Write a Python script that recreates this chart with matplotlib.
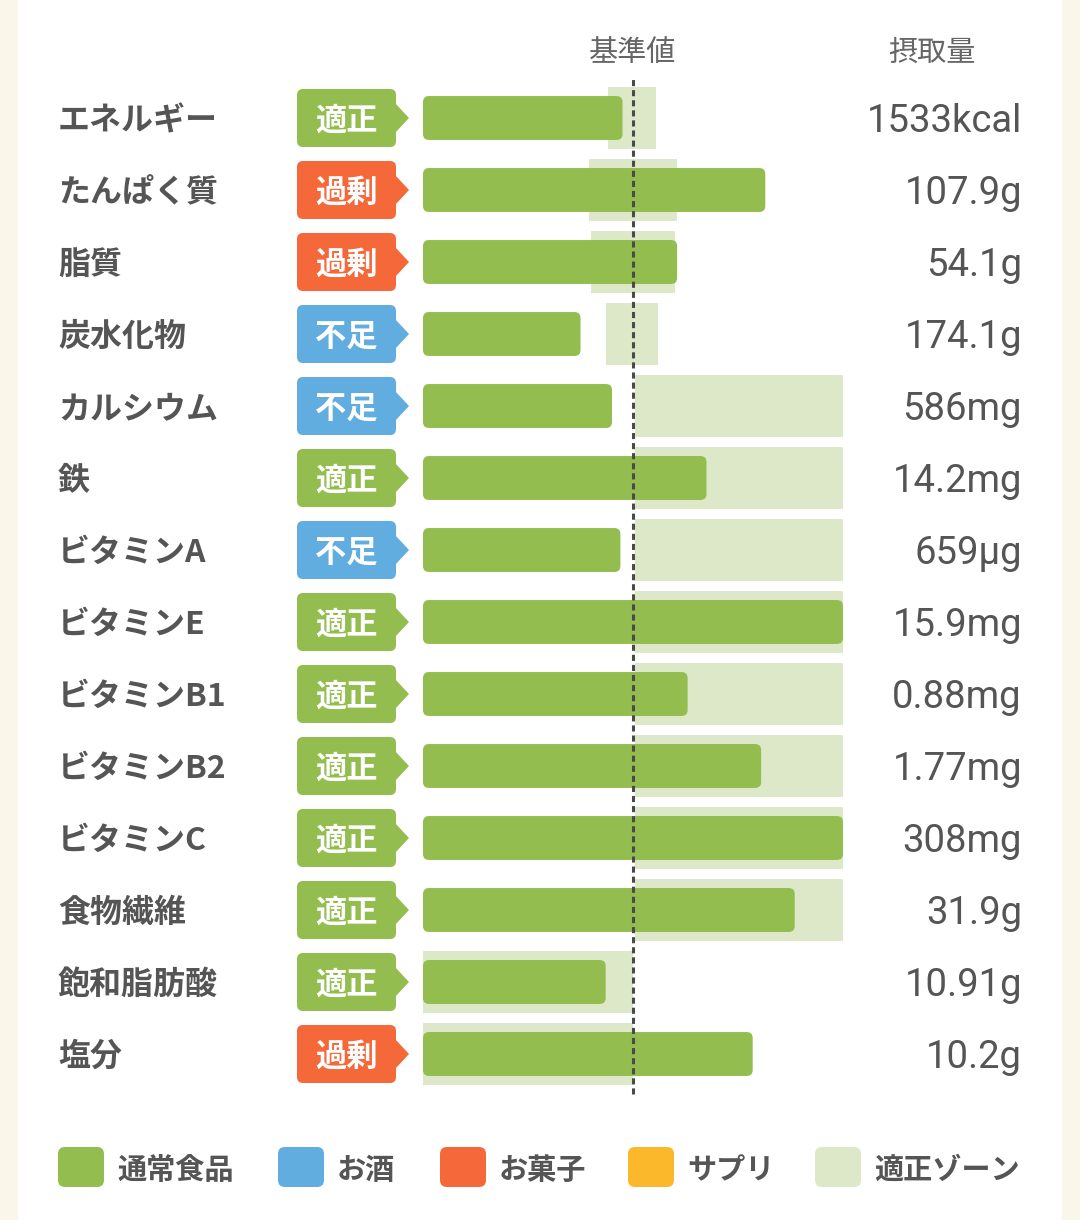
import matplotlib
matplotlib.use('Agg')
import matplotlib.pyplot as plt
import matplotlib.transforms as mtrans
from matplotlib.patches import FancyBboxPatch, Polygon, Rectangle

plt.rcParams['font.family'] = ['Noto Sans CJK JP', 'DejaVu Sans']

# データ（基準値 = 100%）
nutrients = ['エネルギー', 'たんぱく質', '脂質', '炭水化物', 'カルシウム', '鉄',
             'ビタミンA', 'ビタミンE', 'ビタミンB1', 'ビタミンB2', 'ビタミンC',
             '食物繊維', '飽和脂肪酸', '塩分']
status = ['適正', '過剰', '過剰', '不足', '不足', '適正', '不足', '適正', '適正',
          '適正', '適正', '適正', '適正', '過剰']
intake_text = ['1533kcal', '107.9g', '54.1g', '174.1g', '586mg', '14.2mg', '659µg',
               '15.9mg', '0.88mg', '1.77mg', '308mg', '31.9g', '10.91g', '10.2g']
intake_pct = [95, 163, 121, 75, 90, 135, 94, 200, 126, 161, 200, 177, 87, 157]
zone_low = [88, 79, 80, 87, 101, 101, 101, 101, 101, 101, 101, 101, 0, 0]
zone_high = [111, 121, 120, 112, 200, 200, 200, 200, 200, 200, 200, 200, 100, 100]

legend_labels = ['通常食品', 'お酒', 'お菓子', 'サプリ', '適正ゾーン']

GREEN = '#93bd4e'
BLUE = '#62ade0'
ORANGE = '#f4683a'
YELLOW = '#fbb82b'
ZONE = '#dde8c9'
TEXT = '#555555'
status_color = {'適正': GREEN, '過剰': ORANGE, '不足': BLUE}
legend_colors = [GREEN, BLUE, ORANGE, YELLOW, ZONE]

W, H = 1080, 1220
fig = plt.figure(figsize=(W / 100, H / 100), dpi=100)
fig.patch.set_facecolor('#faf6e9')
fig.patches.append(Rectangle((18 / W, 0), (1062 - 18) / W, 1, transform=fig.transFigure,
                             facecolor='white', edgecolor='none', zorder=-10))

n = len(nutrients)
bottom = 1 - 1090 / H
height = 1008 / H

# バーの軸
ax = fig.add_axes([423 / W, bottom, 420 / W, height])
ax.set_xlim(0, 200)
ax.set_ylim(n - 0.5, -0.5)
ax.axis('off')

ax.barh(range(n), [h - l for l, h in zip(zone_low, zone_high)], left=zone_low,
        height=0.86, color=ZONE, zorder=1)

px_x = ax.bbox.width / 200
px_y = ax.bbox.height / n
r = 6 / px_x
bar_h = 0.61
for i, v in enumerate(intake_pct):
    ax.add_patch(FancyBboxPatch((0, i - bar_h / 2), v, bar_h,
                                boxstyle=f'round,pad=0,rounding_size={r}',
                                mutation_aspect=px_x / px_y,
                                facecolor=GREEN, edgecolor='none', zorder=2))

ax.axvline(100, ymin=-0.004, ymax=1.004, color='#4a4a4a', lw=2.2, ls=(0, (2, 1.3)),
           zorder=3, clip_on=False)

# ラベルと摂取量（文字は少し下にずらす）
dy = 3 / px_y
tr = mtrans.blended_transform_factory(fig.transFigure, ax.transData)
for i in range(n):
    ax.text(58 / W, i + dy, nutrients[i], transform=tr, ha='left', va='center',
            fontsize=23, color=TEXT, fontweight='bold')
    ax.text(1022 / W, i + dy, intake_text[i], transform=tr, ha='right', va='center',
            fontsize=27.5, color=TEXT, family=['Roboto', 'DejaVu Sans'])

# 判定バッジ
bx = fig.add_axes([297 / W, bottom, 113 / W, height])
bx.set_xlim(0, 113)
bx.set_ylim(n - 0.5, -0.5)
bx.axis('off')
bpx_y = bx.bbox.height / n
bh = 58 / bpx_y
for i, s in enumerate(status):
    c = status_color[s]
    bx.add_patch(FancyBboxPatch((0, i - bh / 2), 99, bh,
                                boxstyle='round,pad=0,rounding_size=6',
                                mutation_aspect=1 / bpx_y,
                                facecolor=c, edgecolor='none'))
    bx.add_patch(Polygon([(98, i - 15 / bpx_y), (112, i), (98, i + 15 / bpx_y)],
                         closed=True, facecolor=c, edgecolor='none'))
    bx.text(49.5, i + 3 / bpx_y, s, ha='center', va='center', fontsize=22.5,
            color='white', fontweight='bold')

# 見出し
fig.text(633 / W, 1 - 53 / H, '基準値', ha='center', va='center', fontsize=21, color='#666666')
fig.text(932 / W, 1 - 53 / H, '摂取量', ha='center', va='center', fontsize=21, color='#666666')

# 凡例
lax = fig.add_axes([0, 1 - 1210 / H, 1, 80 / H])
lax.set_xlim(0, W)
lax.set_ylim(1210, 1130)
lax.axis('off')
leg_x = [58, 278, 440, 628, 815]
for x, lab, c in zip(leg_x, legend_labels, legend_colors):
    lax.add_patch(FancyBboxPatch((x, 1147), 46, 40, boxstyle='round,pad=0,rounding_size=7',
                                 facecolor=c, edgecolor='none'))
    lax.text(x + 59, 1170, lab, ha='left', va='center', fontsize=21, color=TEXT,
             fontweight='bold')

fig.savefig('out.png', dpi=100, facecolor=fig.get_facecolor())
